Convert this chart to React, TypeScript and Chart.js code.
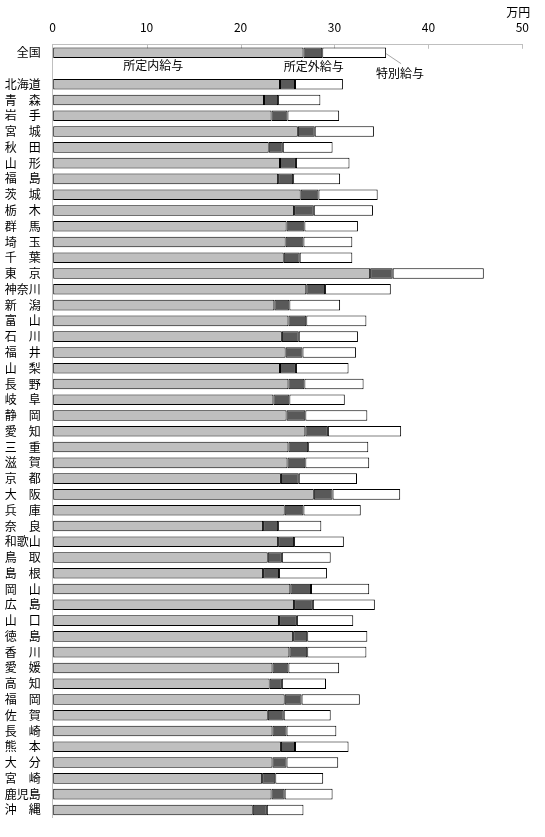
import React, { useEffect, useRef } from 'react';
import { Chart, registerables } from 'chart.js';

Chart.register(...registerables);

const categories: string[] = [
  '全国', '',
  '北海道', '青　森', '岩　手', '宮　城', '秋　田', '山　形', '福　島',
  '茨　城', '栃　木', '群　馬', '埼　玉', '千　葉', '東　京', '神奈川',
  '新　潟', '富　山', '石　川', '福　井', '山　梨', '長　野', '岐　阜',
  '静　岡', '愛　知', '三　重', '滋　賀', '京　都', '大　阪', '兵　庫',
  '奈　良', '和歌山', '鳥　取', '島　根', '岡　山', '広　島', '山　口',
  '徳　島', '香　川', '愛　媛', '高　知', '福　岡', '佐　賀', '長　崎',
  '熊　本', '大　分', '宮　崎', '鹿児島', '沖　縄',
];

const seriesNames = ['所定内給与', '所定外給与', '特別給与'];

const shoteinai: (number | null)[] = [
  26.7, null,
  24.2, 22.5, 23.3, 26.1, 23.0, 24.2, 24.0,
  26.4, 25.7, 24.9, 24.8, 24.6, 33.8, 27.0,
  23.6, 25.1, 24.4, 24.8, 24.2, 25.1, 23.5,
  24.9, 26.9, 25.1, 25.0, 24.3, 27.8, 24.7,
  22.4, 24.0, 22.9, 22.4, 25.3, 25.7, 24.1,
  25.6, 25.2, 23.4, 23.1, 24.7, 22.9, 23.4,
  24.3, 23.4, 22.3, 23.3, 21.3,
];

const shoteigai: (number | null)[] = [
  2.0, null,
  1.6, 1.5, 1.7, 1.8, 1.5, 1.7, 1.6,
  1.9, 2.1, 1.9, 1.9, 1.7, 2.4, 2.0,
  1.6, 1.9, 1.8, 1.8, 1.7, 1.7, 1.7,
  2.0, 2.4, 2.1, 1.9, 1.9, 2.0, 2.0,
  1.6, 1.7, 1.5, 1.7, 2.2, 2.0, 1.9,
  1.5, 1.9, 1.7, 1.3, 1.8, 1.7, 1.5,
  1.5, 1.5, 1.4, 1.4, 1.5,
];

const tokubetsu: (number | null)[] = [
  6.8, null,
  5.1, 4.5, 5.5, 6.3, 5.3, 5.7, 5.0,
  6.3, 6.3, 5.7, 5.2, 5.6, 9.7, 7.0,
  5.4, 6.4, 6.3, 5.7, 5.6, 6.3, 5.9,
  6.6, 7.8, 6.4, 6.8, 6.2, 7.2, 6.1,
  4.6, 5.3, 5.2, 5.1, 6.2, 6.6, 6.0,
  6.4, 6.3, 5.4, 4.7, 6.2, 5.0, 5.3,
  5.7, 5.5, 5.1, 5.1, 3.9,
];

const xMin = 0;
const xMax = 50;
const xStep = 10;
const unitLabel = '万円';

const FONT = '"Noto Sans CJK JP", "Noto Sans", sans-serif';

const overlayPlugin = {
  id: 'overlay',
  beforeDatasetsDraw(chart: any) {
    const { ctx, scales, chartArea } = chart;
    const x = scales.x;
    ctx.save();
    ctx.strokeStyle = '#BFBFBF';
    ctx.lineWidth = 1;
    for (let v = xMin + xStep; v <= xMax; v += xStep) {
      const px = Math.round(x.getPixelForValue(v)) + 0.5;
      ctx.beginPath();
      ctx.moveTo(px, chartArea.top);
      ctx.lineTo(px, chartArea.top + 4);
      ctx.stroke();
    }
    ctx.restore();
  },
  afterDatasetsDraw(chart: any) {
    const { ctx, scales } = chart;
    const x = scales.x;
    const y = scales.y;
    ctx.save();
    ctx.font = `12px ${FONT}`;
    ctx.fillStyle = '#000';
    ctx.textBaseline = 'middle';
    ctx.textAlign = 'center';
    // unit
    ctx.fillText(unitLabel, x.getPixelForValue(xMax) - 4, 12);
    // series labels under the 全国 bar
    const ly = y.getPixelForValue(1) - 3;
    ctx.fillText(seriesNames[0], x.getPixelForValue(10.7), ly);
    ctx.fillText(seriesNames[1], x.getPixelForValue(27.8), ly + 1);
    // leader line for 特別給与
    const total = (shoteinai[0] || 0) + (shoteigai[0] || 0) + (tokubetsu[0] || 0);
    const bx = x.getPixelForValue(total);
    const by = y.getPixelForValue(0);
    ctx.strokeStyle = '#A6A6A6';
    ctx.lineWidth = 1;
    ctx.beginPath();
    ctx.moveTo(bx, by + 1);
    ctx.lineTo(bx + 15, by + 11);
    ctx.stroke();
    ctx.textAlign = 'left';
    ctx.fillText(seriesNames[2], bx - 10, by + 21);
    ctx.restore();
  },
};

export default function App() {
  const canvasRef = useRef<HTMLCanvasElement | null>(null);

  useEffect(() => {
    const canvas = canvasRef.current;
    if (!canvas) return;
    const chart = new Chart(canvas, {
      type: 'bar',
      data: {
        labels: categories,
        datasets: [
          {
            label: seriesNames[0],
            data: shoteinai,
            backgroundColor: '#BFBFBF',
            borderColor: '#000000',
            borderWidth: 1,
            borderSkipped: false,
          },
          {
            label: seriesNames[1],
            data: shoteigai,
            backgroundColor: '#595959',
            borderColor: '#000000',
            borderWidth: 1,
            borderSkipped: false,
          },
          {
            label: seriesNames[2],
            data: tokubetsu,
            backgroundColor: '#FFFFFF',
            borderColor: '#000000',
            borderWidth: 1,
            borderSkipped: false,
          },
        ],
      },
      options: {
        indexAxis: 'y',
        animation: false,
        responsive: false,
        devicePixelRatio: 1,
        datasets: {
          bar: {
            barPercentage: 0.67,
            categoryPercentage: 1,
          },
        },
        layout: {
          padding: { left: 0, top: 0, right: 22.7, bottom: 8.2 },
        },
        plugins: {
          legend: { display: false },
          tooltip: { enabled: false },
        },
        scales: {
          x: {
            type: 'linear',
            position: 'top',
            stacked: true,
            min: xMin,
            max: xMax,
            ticks: {
              stepSize: xStep,
              color: '#000',
              font: { family: FONT, size: 12 },
              padding: 10,
            },
            grid: { drawOnChartArea: false, drawTicks: false },
            border: { display: true, color: '#BFBFBF', width: 1 },
            afterFit(scale: any) {
              scale.height = 44.8;
            },
          },
          y: {
            type: 'category',
            stacked: true,
            ticks: {
              color: '#000',
              font: { family: FONT, size: 12 },
              padding: 12,
              autoSkip: false,
            },
            grid: { drawOnChartArea: false, drawTicks: false },
            border: { display: true, color: '#BFBFBF', width: 1 },
            afterFit(scale: any) {
              scale.width = 52.7;
            },
          },
        },
      },
      plugins: [overlayPlugin],
    });
    return () => chart.destroy();
  }, []);

  return (
    <div style={{ position: 'fixed', left: 0, top: 0, width: 545, height: 837, background: '#fff' }}>
      <canvas ref={canvasRef} width={545} height={837} style={{ display: 'block' }} />
    </div>
  );
}
